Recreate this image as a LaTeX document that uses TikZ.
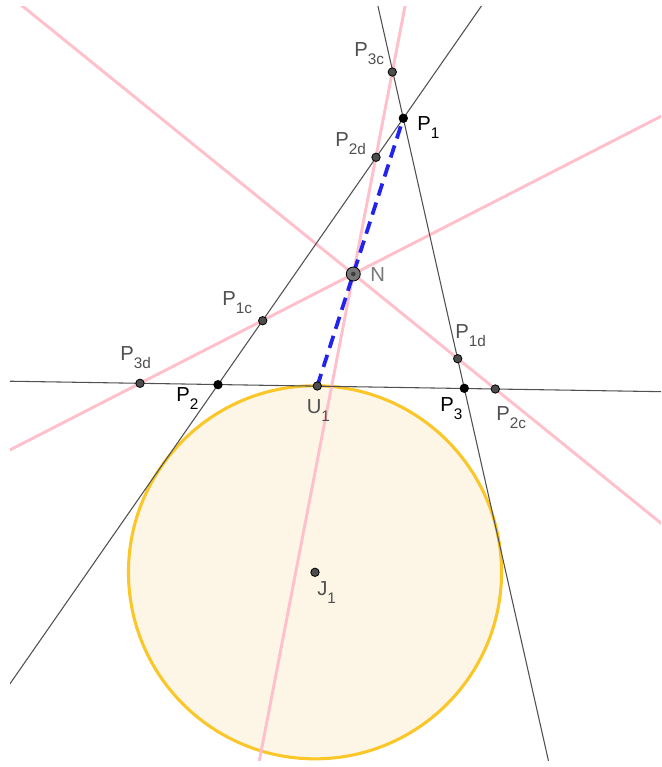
\documentclass[tikz,border=0pt]{standalone}
\usepackage{fontspec}
\setmainfont{Liberation Sans}
\usetikzlibrary{calc}
\definecolor{pinkline}{RGB}{255,192,203}
\definecolor{gline}{RGB}{80,80,80}
\definecolor{goldc}{RGB}{250,198,40}
\definecolor{cream}{RGB}{253,246,230}
\definecolor{bluedash}{RGB}{35,35,240}
\definecolor{ptgray}{RGB}{77,77,77}
\definecolor{lblgray}{RGB}{80,80,80}
\definecolor{ngray}{RGB}{120,120,120}
\newcommand{\lab}[2]{#1\raisebox{-6pt}{\fontsize{11.5}{11.5}\selectfont #2}}
\begin{document}
\begin{tikzpicture}[x=0.75pt,y=-0.75pt,
  blackline/.style={draw=gline,line width=0.8pt},
  pinkln/.style={draw=pinkline,line width=2.2pt},
  dashln/.style={draw=bluedash,line width=2.8pt,dash pattern=on 9.5pt off 5.5pt},
  pt/.style={circle,fill=ptgray,draw=black,line width=0.6pt,inner sep=0pt,minimum size=6.3pt},
  bpt/.style={circle,fill=black,draw=black,line width=0.6pt,inner sep=0pt,minimum size=6.3pt},
  lbl/.style={anchor=base west,inner sep=0pt,text=lblgray,font=\fontsize{15.2}{15.2}\selectfont},
  blbl/.style={lbl,text=black}
]
\useasboundingbox (0,0) rectangle (661,767);
% circle
\coordinate (cJ1) at (315,572.3);
\fill[cream] (cJ1) circle[radius=139.9pt];
\draw[goldc,line width=2.3pt] (cJ1) circle[radius=139.9pt];
% points (coordinates)
\coordinate (cP1) at (403.3,118.3);
\coordinate (cP2) at (218,384.7);
\coordinate (cP3) at (464.3,388.3);
\coordinate (cP3c) at (392.3,72);
\coordinate (cP2d) at (376,157.3);
\coordinate (cN) at (353.3,274);
\coordinate (cP1c) at (262.7,320.7);
\coordinate (cP3d) at (140,383.3);
\coordinate (cP1d) at (457.7,358.7);
\coordinate (cP2c) at (495.3,389);
\coordinate (cU1) at (317.3,386);
% lines
\begin{scope}
\clip (10,7) rectangle (661,760);
\draw[pinkln] ($(cN)!-8!(cP3c)$) -- ($(cN)!8!(cP3c)$);
\draw[pinkln] ($(cN)!-8!(cP2c)$) -- ($(cN)!8!(cP2c)$);
\draw[pinkln] ($(cN)!-8!(cP3d)$) -- ($(cN)!8!(cP3d)$);
\draw[blackline] ($(cP3d)!-8!(cP2c)$) -- ($(cP3d)!8!(cP2c)$);
\draw[blackline] ($(cP2)!-8!(cP1)$) -- ($(cP2)!8!(cP1)$);
\draw[blackline] ($(cP1)!-8!(cP3)$) -- ($(cP1)!8!(cP3)$);
\end{scope}
\draw[dashln] (cU1) -- (cP1);
% point markers
\node[bpt] (P1) at (cP1) {};
\node[bpt] (P2) at (cP2) {};
\node[bpt] (P3) at (cP3) {};
\node[pt] (P3c) at (cP3c) {};
\node[pt] (P2d) at (cP2d) {};
\node[pt] (P1c) at (cP1c) {};
\node[pt] (P3d) at (cP3d) {};
\node[pt] (P1d) at (cP1d) {};
\node[pt] (P2c) at (cP2c) {};
\node[pt] (U1) at (cU1) {};
\node[pt] (J1) at (cJ1) {};
\node[circle,fill=ngray,draw=black,line width=0.6pt,inner sep=0pt,minimum size=10.5pt] (N) at (cN) {};
\node[circle,fill=ptgray!80!black,inner sep=0pt,minimum size=3.5pt] (Nc) at (cN) {};
% labels
\node[lbl] (lP3c) at (354,56.7) {\lab{P}{3c}};
\node[blbl] (lP1) at (417,130) {\lab{P}{1}};
\node[lbl] (lP2d) at (335,146.7) {\lab{P}{2d}};
\node[lbl,text=ngray] (lN) at (370,281.7) {N};
\node[lbl] (lP1c) at (222,305) {\lab{P}{1c}};
\node[lbl] (lP3d) at (120,360.7) {\lab{P}{3d}};
\node[blbl] (lP2) at (176,401.7) {\lab{P}{2}};
\node[lbl] (lU1) at (306.5,413) {\lab{U}{1}};
\node[lbl] (lP1d) at (455,338.3) {\lab{P}{1d}};
\node[blbl] (lP3) at (440,411.7) {\lab{P}{3}};
\node[lbl] (lP2c) at (496,420) {\lab{P}{2c}};
\node[lbl] (lJ1) at (317,595) {\lab{J}{1}};
\end{tikzpicture}
\end{document}
